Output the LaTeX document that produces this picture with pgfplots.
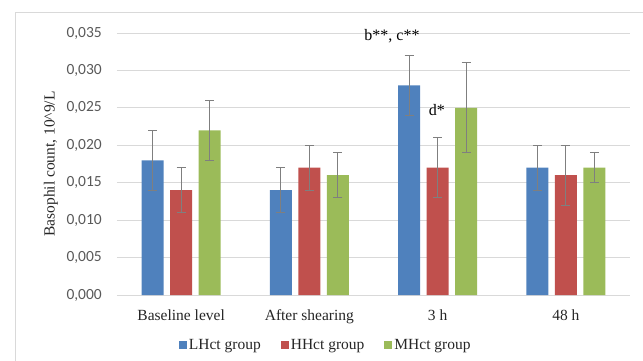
\documentclass[border=0pt]{standalone}
\usepackage{fontspec}
\setmainfont{Liberation Serif}
\newfontfamily\tickfont{Carlito}
\usepackage{pgfplots}
\pgfplotsset{compat=1.18}

\definecolor{lhct}{HTML}{4F81BD}
\definecolor{hhct}{HTML}{C0504D}
\definecolor{mhct}{HTML}{9BBB59}
\definecolor{gridgray}{HTML}{D9D9D9}
\definecolor{errgray}{HTML}{7F7F7F}
\definecolor{txt}{HTML}{262626}
\definecolor{ticktxt}{HTML}{595959}

\begin{document}
\begin{tikzpicture}[x=1pt,y=1pt]
\useasboundingbox (0,0) rectangle (643,360);
% chart frame
\draw[gridgray, line width=1pt] (15,-5) -- (15,348) -- (650,348);
\begin{axis}[
  scale only axis,
  clip=false,
  width=513pt, height=262pt,
  at={(117pt,65pt)}, anchor=south west,
  xmin=-0.5, xmax=3.5,
  ymin=0, ymax=0.035,
  ytick={0,0.005,0.010,0.015,0.020,0.025,0.030,0.035},
  scaled y ticks=false,
  /pgf/number format/.cd, use comma, fixed, fixed zerofill, precision=3, assume math mode=true,
  /pgfplots/.cd,
  xtick={0,1,2,3},
  xticklabels={Baseline level, After shearing, 3 h, 48 h},
  axis x line*=bottom, axis y line*=left,
  y axis line style={draw=none},
  x axis line style={gridgray, line width=1pt},
  major tick length=0pt,
  ymajorgrids, grid style={gridgray, line width=1pt},
  yticklabel style={font=\tickfont\fontsize{15.5}{18}\selectfont, text=ticktxt, anchor=east, inner sep=0pt, xshift=-15pt},
  xticklabel style={font=\fontsize{15.5}{18}\selectfont, text=txt, anchor=base, yshift=-25pt},
  ylabel={Basophil count, 10\textasciicircum 9/L},
  ylabel style={font=\fontsize{15.5}{18}\selectfont, text=txt, at={(axis description cs:-0.1287,0.5)}, anchor=center},
  ybar, bar width=22pt,
  error bars/y dir=both, error bars/y explicit,
  error bars/error bar style={errgray, line width=1pt},
  error bars/error mark options={errgray, rotate=90, mark size=4.5pt, line width=1pt},
  legend style={at={(0.407,-0.191)}, anchor=center, draw=none, fill=none,
    legend columns=-1, font=\fontsize{15.5}{18}\selectfont, text=txt,
    /tikz/every even column/.append style={column sep=18pt}},
  legend image code/.code={\fill[#1] (0pt,-4pt) rectangle (8pt,4pt);},
]
\addplot[fill=lhct, draw=none, bar shift=-28.5pt] coordinates {
  (0,0.018) +- (0,0.004)
  (1,0.014) +- (0,0.003)
  (2,0.028) +- (0,0.004)
  (3,0.017) +- (0,0.003)
};
\addplot[fill=hhct, draw=none, bar shift=0pt] coordinates {
  (0,0.014) +- (0,0.003)
  (1,0.017) +- (0,0.003)
  (2,0.017) +- (0,0.004)
  (3,0.016) +- (0,0.004)
};
\addplot[fill=mhct, draw=none, bar shift=28.5pt] coordinates {
  (0,0.022) +- (0,0.004)
  (1,0.016) +- (0,0.003)
  (2,0.025) +- (0,0.006)
  (3,0.017) +- (0,0.002)
};
\legend{LHct group, HHct group, MHct group}
\node[font=\fontsize{16}{18}\selectfont, text=black, anchor=base] at (axis cs:1.644,0.0340) {b**, c**};
\node[font=\fontsize{16}{18}\selectfont, text=black, anchor=base] at (axis cs:1.995,0.0240) {d*};
\end{axis}
\end{tikzpicture}
\end{document}
